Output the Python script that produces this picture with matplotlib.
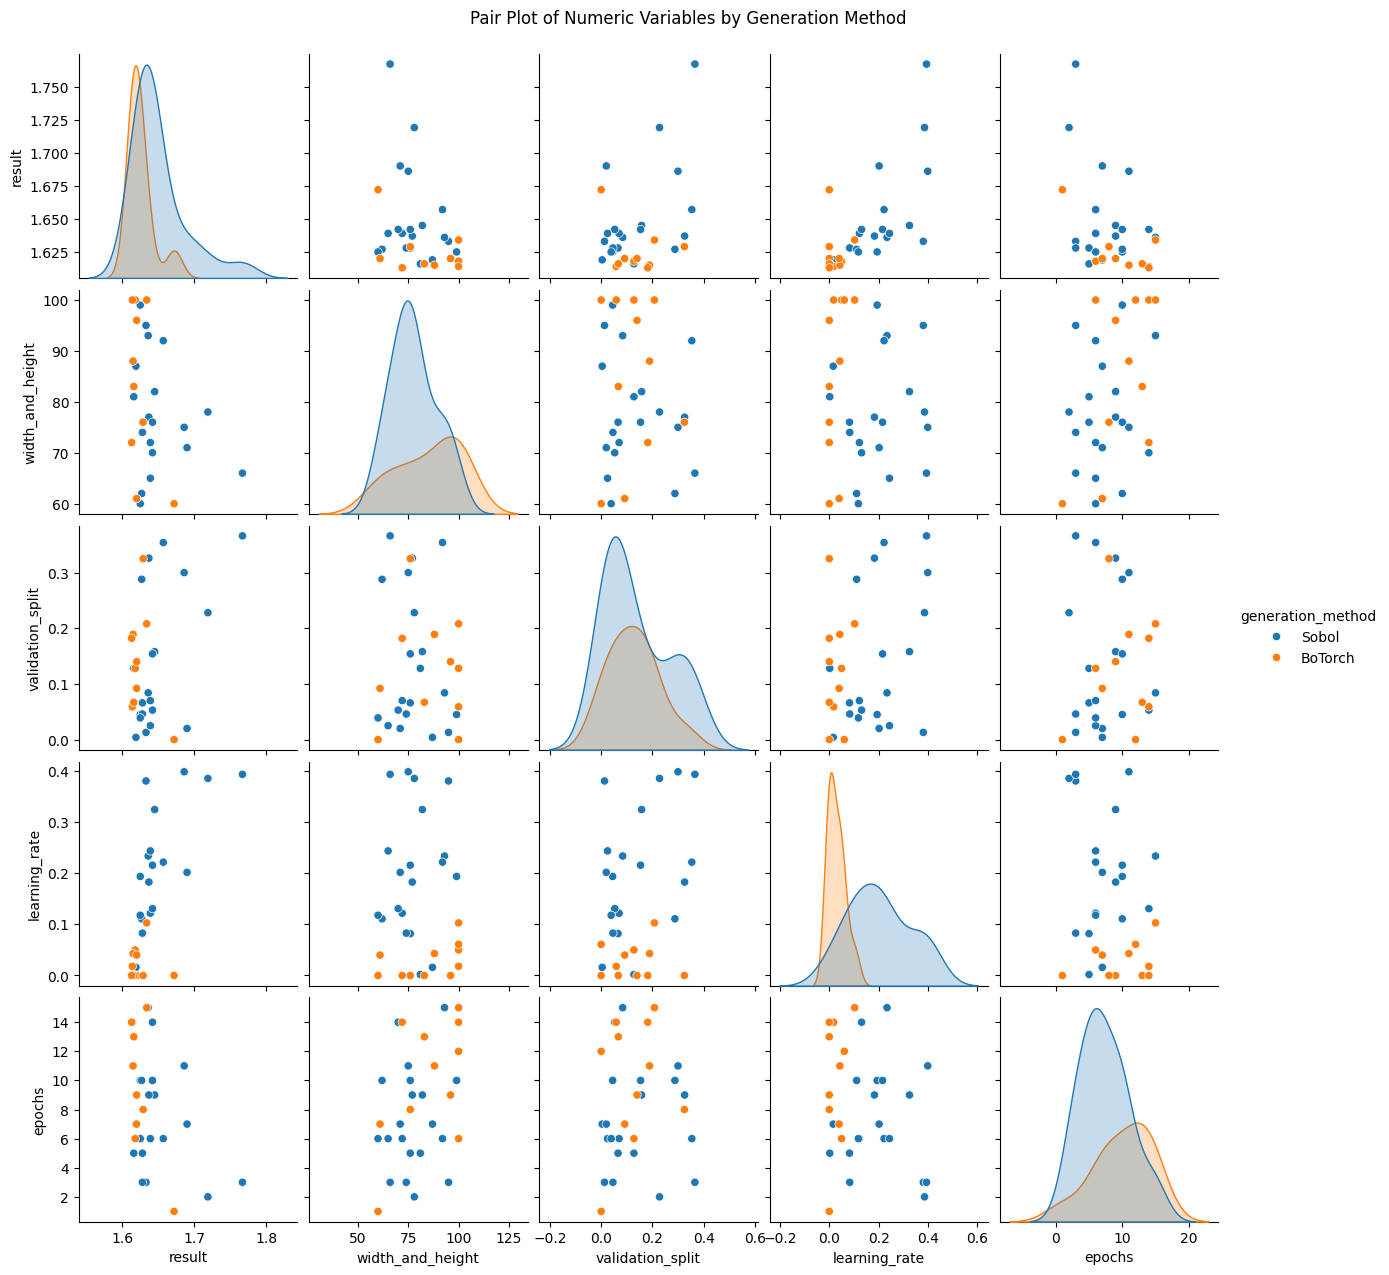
import numpy as np
import pandas as pd
import seaborn as sns
import matplotlib.pyplot as plt

# Sobol trials
sobol_result = [1.625, 1.633, 1.636, 1.657, 1.619, 1.645, 1.616, 1.719, 1.637, 1.628,
                1.642, 1.686, 1.628, 1.639, 1.690, 1.642, 1.767, 1.639, 1.627, 1.625]
sobol_wh = [99, 95, 93, 92, 87, 82, 81, 78, 77, 76, 76, 75, 74, 72, 71, 70, 66, 65, 62, 60]
sobol_val = [0.045, 0.013, 0.084, 0.354, 0.004, 0.158, 0.128, 0.228, 0.326, 0.066,
             0.154, 0.300, 0.046, 0.070, 0.020, 0.053, 0.366, 0.025, 0.288, 0.039]
sobol_lr = [0.194, 0.381, 0.234, 0.222, 0.016, 0.325, 0.002, 0.386, 0.183, 0.082,
            0.216, 0.399, 0.083, 0.122, 0.202, 0.131, 0.394, 0.244, 0.111, 0.118]
sobol_ep = [10, 3, 15, 6, 7, 9, 5, 2, 9, 5, 10, 11, 3, 6, 7, 14, 3, 6, 10, 6]

# BoTorch trials
bo_result = [1.618, np.nan, 1.614, 1.634, 1.620, 1.615, 1.616, 1.629, 1.613, 1.620, 1.672]
bo_wh = [100, 100, 100, 100, 96, 88, 83, 76, 72, 61, 60]
bo_val = [0.128, 0.0, 0.059, 0.208, 0.140, 0.189, 0.067, 0.325, 0.182, 0.092, 0.0]
bo_lr = [0.050, 0.061, 0.018, 0.103, 0.0, 0.043, 0.0, 0.0, 0.0, 0.040, 0.0]
bo_ep = [6, 12, 14, 15, 9, 11, 13, 8, 14, 7, 1]

df = pd.DataFrame({
    'result': sobol_result + bo_result,
    'width_and_height': sobol_wh + bo_wh,
    'validation_split': sobol_val + bo_val,
    'learning_rate': sobol_lr + bo_lr,
    'epochs': sobol_ep + bo_ep,
    'generation_method': ['Sobol'] * len(sobol_ep) + ['BoTorch'] * len(bo_ep),
})

g = sns.pairplot(df, hue='generation_method', hue_order=['Sobol', 'BoTorch'])
plt.suptitle('Pair Plot of Numeric Variables by Generation Method', y=1.02)
plt.savefig('out.png', bbox_inches='tight')
